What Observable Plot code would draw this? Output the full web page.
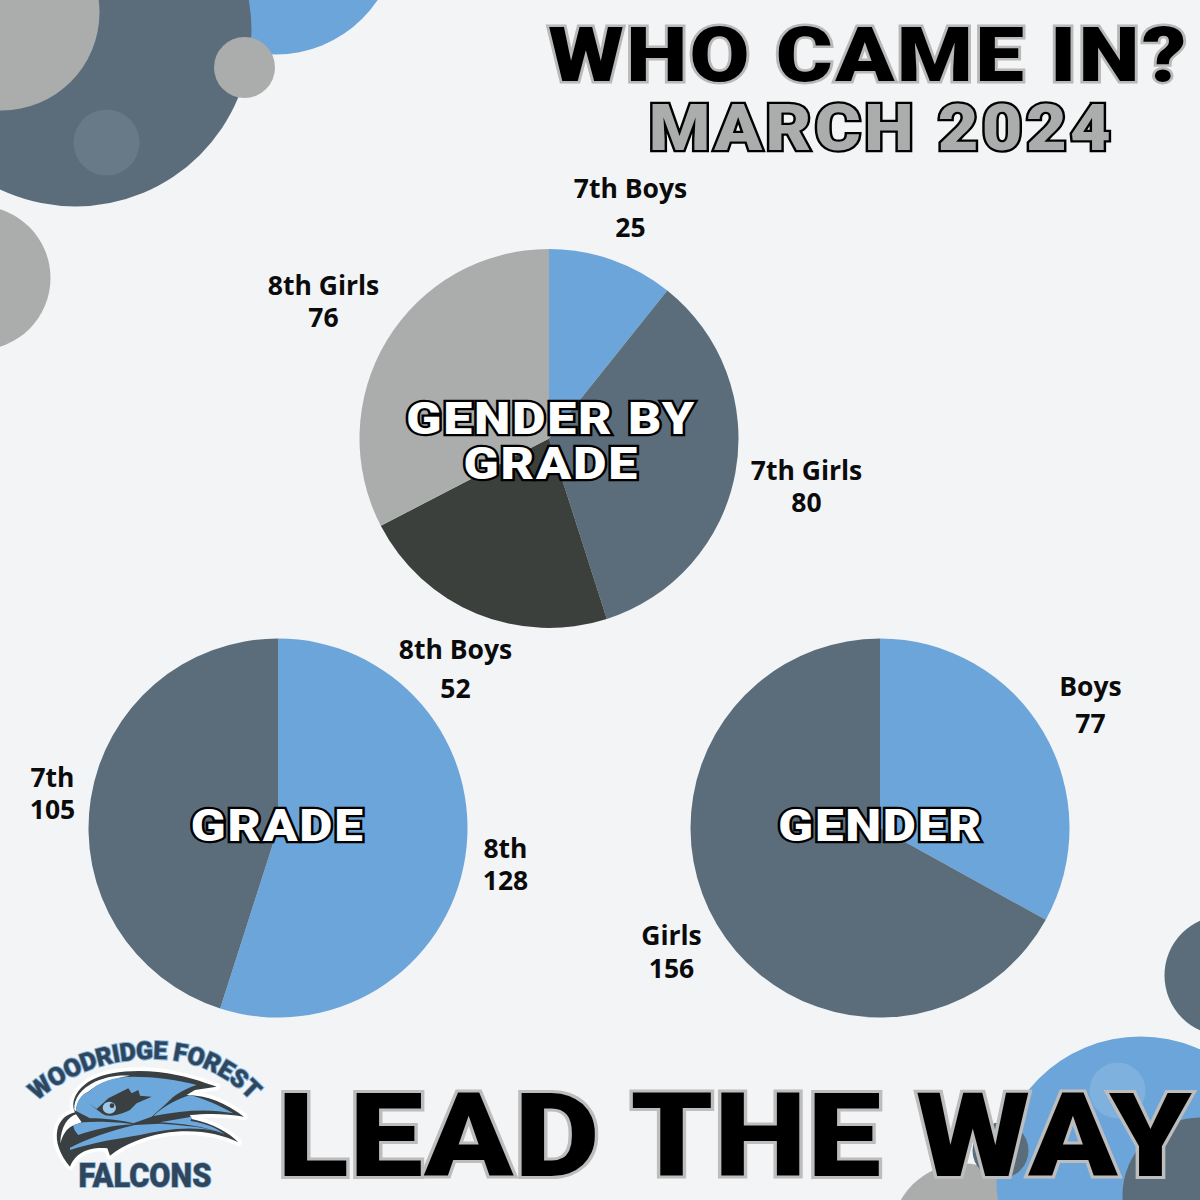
<!DOCTYPE html>
<html>
<head>
<meta charset="utf-8">
<script src="https://cdn.jsdelivr.net/npm/d3@7"></script>
<script src="https://cdn.jsdelivr.net/npm/@observablehq/plot@0.6"></script>
<style>html,body{margin:0;padding:0;background:#F2F4F6;overflow:hidden}</style>
</head>
<body>
<div id="chart"></div>
<script>
// ---- chart values ----
const comboCategories = ["7th Boys", "7th Girls", "8th Boys", "8th Girls"];
const comboValues = [25, 80, 52, 76];
const gradeCategories = ["8th", "7th"];
const gradeValues = [128, 105];
const genderCategories = ["Boys", "Girls"];
const genderValues = [77, 156];

// ---- palette ----
const BLUE = "#6CA5D9", SLATE = "#5B6D7B", DARK = "#3B403C", GREY = "#ABADAD",
      PALE_SLATE = "#687A87", PALE_BLUE = "#7FB1DE", BG = "#F2F4F6";
const comboColors = [BLUE, SLATE, DARK, GREY];
const gradeColors = [BLUE, SLATE];
const genderColors = [BLUE, SLATE];

// ---- layout (separate from the values) ----
const pies = [
  {cats: comboCategories, vals: comboValues, cols: comboColors, cx: 549, cy: 438.5, radius: 189.5,
   labelX: [630, 806, 455, 323], labelY: [188, 470, 649, 285], valueY: [227, 502, 688, 317]},
  {cats: gradeCategories, vals: gradeValues, cols: gradeColors, cx: 278, cy: 828, radius: 189.5,
   labelX: [505, 52], labelY: [848, 777], valueY: [880, 809]},
  {cats: genderCategories, vals: genderValues, cols: genderColors, cx: 880, cy: 828, radius: 189.5,
   labelX: [1090, 671], labelY: [686, 935], valueY: [723, 968]}
];

const circleX = [275, 75, 1, 106, 244, -22, 1224, 963, 1140, 1117, 1200, 1000];
const circleY = [-69, 30, 12, 142, 67, 277.5, 975, 1235, 1180, 1090, 1195, 1150];
const circleR = [123, 176, 98, 33, 30.5, 72, 60, 72, 144, 28, 78, 28];
const circleC = [BLUE, SLATE, GREY, PALE_SLATE, GREY, GREY, SLATE, GREY, BLUE, PALE_BLUE, SLATE, SLATE];
const circles = circleX.map((x, i) => ({x, y: circleY[i], r: circleR[i], c: circleC[i]}));

const LABEL_SIZE = 26.5;
const labels = pies.flatMap(p => p.cats.map((c, i) => {
  const gap = p.valueY[i] - p.labelY[i];
  return {
    t: `${c}\n${p.vals[i]}`,
    x: p.labelX[i],
    y: (p.labelY[i] + p.valueY[i]) / 2 - 1 - (gap - 32) * 0.35,
    gap
  };
}));
const labelGaps = [...new Set(labels.map(d => d.gap))];

// Pie mark: slices come from d3.pie over the values, placed through Plot's x and y scales.
function pieMark(p) {
  return (index, scales) => {
    const g = d3.create("svg:g").attr("class", "pie");
    const arcs = d3.pie().sort(null)(p.vals);
    const cx = scales.x(p.cx), cy = scales.y(p.cy);
    const rad = scales.x(p.cx + p.radius) - cx;
    const arc = d3.arc().innerRadius(0).outerRadius(rad);
    g.attr("transform", `translate(${cx},${cy})`);
    g.selectAll("path").data(arcs).join("path")
      .attr("d", arc).attr("fill", (d, i) => p.cols[i])
      .append("title").text((d, i) => `${p.cats[i]}: ${p.vals[i]}`);
    return g.node();
  };
}

// Display text with outline, squeezed horizontally to a measured width.
const ctx2d = document.createElement("canvas").getContext("2d");
const DISPLAY_FONT = "Roboto, 'Liberation Sans', sans-serif";
function banner(t, x, y, size, fill, stroke, sw, len, spacing, lineHeight = 1) {
  ctx2d.font = `900 ${size}px ${DISPLAY_FONT}`;
  const natural = d3.max(t.split("\n"), l => ctx2d.measureText(l).width + spacing * (l.length - 1));
  const sx = len / natural;
  return Plot.text([t], {
    x: () => x, y: () => y, text: d => d, fontSize: size, lineHeight,
    fontFamily: DISPLAY_FONT, fontWeight: 900,
    fill, stroke, strokeWidth: sw, paintOrder: "stroke", strokeLinejoin: "miter",
    textAnchor: "middle", lineAnchor: "middle",
    render(i, s, v, d, c, next) {
      const el = next(i, s, v, d, c);
      d3.select(el).selectAll("text").attr("letter-spacing", spacing);
      const px = s.x(x);
      const wrap = d3.create("svg:g")
        .attr("transform", `translate(${px - spacing * sx / 2},0) scale(${sx},1) translate(${-px},0)`);
      wrap.node().appendChild(el);
      return wrap.node();
    }
  });
}

// School badge artwork
function logoMark() {
  return () => {
    const g = d3.create("svg:g").attr("transform", "translate(20,1035) scale(0.3333)");
    const ink = "#3A3F42", blue = "#6CA8DC";
    const sil = "M150,395 C120,360 105,320 112,285 C118,255 140,238 165,232 C150,200 170,160 215,135 C270,105 380,100 470,120 C520,130 560,145 590,155 L525,165 L500,180 C560,180 620,205 672,245 C620,235 560,235 510,240 L515,252 C580,265 630,295 655,322 C600,295 520,280 430,295 C370,305 310,330 270,362 L262,340 C220,335 170,345 150,395 Z";
    g.append("path").attr("d", sil).attr("fill", "#fff").attr("stroke", "#fff").attr("stroke-width", 22).attr("stroke-linejoin", "round");
    g.append("path").attr("d", sil).attr("fill", ink);
    g.append("path").attr("d", "M163,225 C160,190 185,160 225,140 C270,122 300,120 330,122 C280,130 235,145 205,170 C185,178 170,200 168,228 Z").attr("fill", "#fff");
    g.append("path").attr("d", "M121,325 C122,275 145,245 168,238 L185,262 L158,272 C138,282 128,300 121,325 Z").attr("fill", "#fff");
    for (const d of [
      "M168,228 C168,202 182,178 207,170 C232,142 280,125 340,125 C400,125 480,135 530,150 C500,160 470,175 450,195 C430,215 410,230 395,245 L340,265 C300,255 250,250 210,250 Z",
      "M400,243 C430,215 470,192 510,180 C550,190 600,212 640,235 C570,220 490,225 400,243 Z",
      "M420,262 L515,245 L512,258 C560,265 590,280 615,298 C550,272 480,266 420,262 Z",
      "M150,338 C200,312 270,288 345,270 L420,266 C480,270 540,274 590,288 C500,272 430,285 360,300 C300,310 220,322 150,345 Z",
      "M160,270 L190,262 C240,258 300,262 340,268 C280,270 220,285 175,300 C165,290 160,280 160,270 Z"
    ]) g.append("path").attr("d", d).attr("fill", blue);
    g.append("path").attr("d", "M205,205 L245,235 C262,250 300,240 330,225 L350,205 L395,185 L360,182 L355,165 L335,175 L325,160 L295,175 L265,190 L230,222 Z").attr("fill", ink);
    g.append("ellipse").attr("cx", 268).attr("cy", 218).attr("rx", 20).attr("ry", 18).attr("fill", "#9CC8EA");
    g.append("ellipse").attr("cx", 276).attr("cy", 212).attr("rx", 7).attr("ry", 7).attr("fill", ink);
    return g.node();
  };
}

function logoText() {
  return () => {
    const g = d3.create("svg:g");
    g.append("defs").append("path").attr("id", "logoArc")
      .attr("d", "M36,1102 C70,1072 110,1059 153,1059 C190,1059 225,1072 252,1102");
    const txt = g.append("text")
      .attr("font-family", "Roboto, sans-serif").attr("font-weight", 900).attr("font-size", 25)
      .attr("fill", "#31465A").attr("stroke", "#7FB4E2").attr("stroke-width", 2)
      .attr("paint-order", "stroke").attr("text-anchor", "middle");
    txt.append("textPath").attr("href", "#logoArc").attr("startOffset", "50%")
      .attr("textLength", 236).attr("lengthAdjust", "spacing").text("WOODRIDGE FOREST");
    g.append("text").attr("x", 145).attr("y", 1187).attr("text-anchor", "middle")
      .attr("font-family", "Roboto, sans-serif").attr("font-weight", 900).attr("font-size", 33)
      .attr("fill", "#31465A").attr("stroke", "#7FB4E2").attr("stroke-width", 1.5).attr("paint-order", "stroke")
      .attr("textLength", 133).attr("lengthAdjust", "spacingAndGlyphs").text("FALCONS");
    return g.node();
  };
}

const chart = Plot.plot({
  width: 1200, height: 1200, margin: 0,
  x: {domain: [0, 1200], axis: null},
  y: {domain: [1200, 0], axis: null},
  r: {type: "identity"},
  color: {type: "identity"},
  style: {background: BG},
  marks: [
    Plot.dot(circles, {x: "x", y: "y", r: "r", fill: "c", sort: null}),
    ...pies.map(pieMark),
    ...labelGaps.map(gap => Plot.text(labels.filter(d => d.gap === gap), {
      x: "x", y: "y", text: "t", fontSize: LABEL_SIZE, fontWeight: 700, lineHeight: gap / LABEL_SIZE,
      fontFamily: "'Open Sans', 'Noto Sans', sans-serif", fill: "#0B0B0B",
      textAnchor: "middle", lineAnchor: "middle"
    })),
    banner("WHO CAME IN?", 869, 56, 76, "#000", "#B9B9B9", 5, 638, 2),
    banner("MARCH 2024", 882.5, 129.5, 64, GREY, "#000", 4.5, 462, 3),
    banner("LEAD THE WAY", 735, 1138, 116, "#000", "#BDBDBD", 6, 918, 1),
    banner("GENDER BY\nGRADE", 551.5, 441.5, 44, "#fff", "#000", 4.5, 288, 1.5, 45 / 44),
    banner("GRADE", 278, 826, 44, "#fff", "#000", 4.5, 172, 1.5),
    banner("GENDER", 881, 826, 44, "#fff", "#000", 4.5, 203, 1.5),
    logoMark(),
    logoText()
  ]
});
document.getElementById("chart").appendChild(chart);
</script>
</body>
</html>
